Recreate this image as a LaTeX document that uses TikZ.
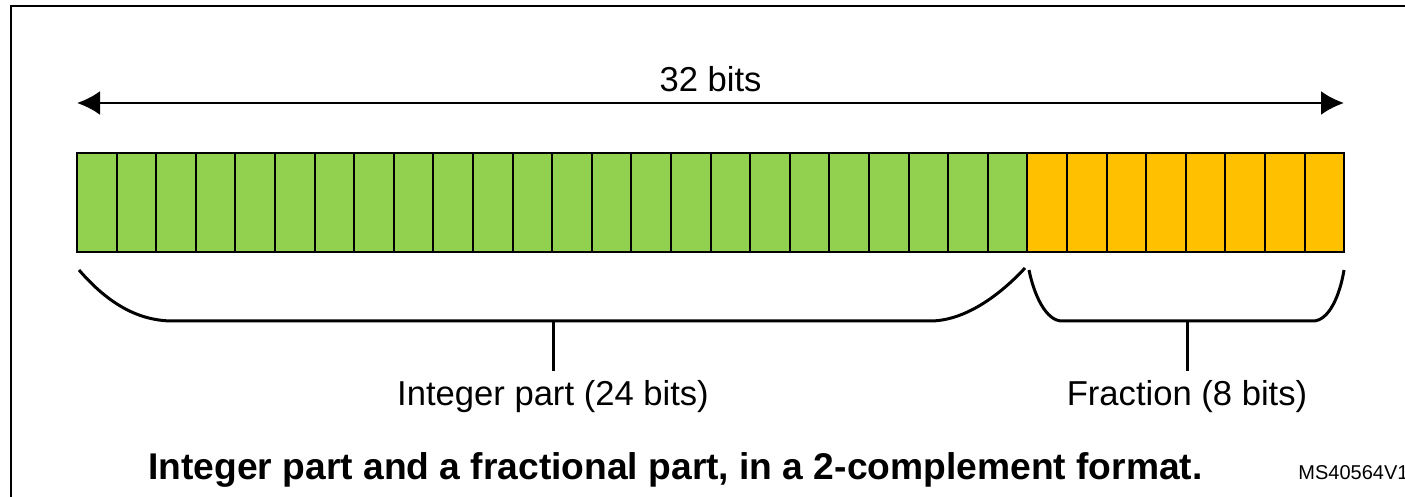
\documentclass[tikz,border=0pt]{standalone}
\usepackage{fontspec}
\setmainfont{Liberation Sans}
\usetikzlibrary{arrows.meta}

\definecolor{intgreen}{HTML}{92D050}
\definecolor{fracyellow}{HTML}{FFC000}

\begin{document}
\begin{tikzpicture}[x=0.5pt,y=-0.5pt]
	\tikzset{bit/.style = {draw, line width=1pt, minimum width=19.8pt, minimum height=49.5pt, inner sep=0pt, outer sep=0pt}}
	\tikzset{span/.style = {{Latex[length=11.5pt,width=12pt]}-{Latex[length=11.5pt,width=12pt]}, line width=1.3pt}}
	\tikzset{brace/.style = {line width=1.5pt}}
	\tikzset{txt/.style = {anchor=base, inner sep=0pt, font=\fontsize{17.3}{20}\selectfont}}
	\useasboundingbox (0,0) rectangle (1405,497);
	\clip (0,0) rectangle (1405,497);
	% outer frame
	\draw[line width=1.3pt] (11,6) rectangle (1440,530);
	% 24 integer bits, 8 fraction bits
	\foreach \i in {1,...,24}
		\node[bit, fill=intgreen] (b\i) at ({77+39.6*(\i-0.5)},202.5) {};
	\foreach \i in {25,...,32}
		\node[bit, fill=fracyellow] (b\i) at ({77+39.6*(\i-0.5)},202.5) {};
	% word width
	\coordinate (lft) at (77,103);
	\coordinate (rgt) at (1344,103);
	\draw[span] (lft) -- (rgt);
	\node[txt] (width) at (710.5,92) {32 bits};
	% braces
	\coordinate (intmid) at (553,321);
	\coordinate (fracmid) at (1187,321);
	\draw[brace] (79,270) .. controls (105,300) and (135,321) .. (173,321) -- (intmid)
		-- (930,321) .. controls (965,321) and (1000,295) .. (1025,268);
	\draw[brace] (1029,270) .. controls (1034,295) and (1046,321) .. (1062,321) -- (fracmid)
		-- (1313,321) .. controls (1329,321) and (1340,295) .. (1344,270);
	\node[txt] (intlbl) at (553,406) {Integer part (24 bits)};
	\node[txt] (fraclbl) at (1187,406) {Fraction (8 bits)};
	\draw[brace, shorten >=5pt] (intmid) -- (intlbl.north);
	\draw[brace, shorten >=5pt] (fracmid) -- (fraclbl.north);
	% caption
	\node[anchor=base, inner sep=0pt, font=\bfseries\fontsize{18.6}{22}\selectfont] (caption) at (675.5,480)
		{Integer part and a fractional part, in a 2-complement format.};
	\node[anchor=base west, inner sep=0pt, font=\fontsize{10}{12}\selectfont] (docid) at (1298,480) {MS40564V1};
\end{tikzpicture}
\end{document}
